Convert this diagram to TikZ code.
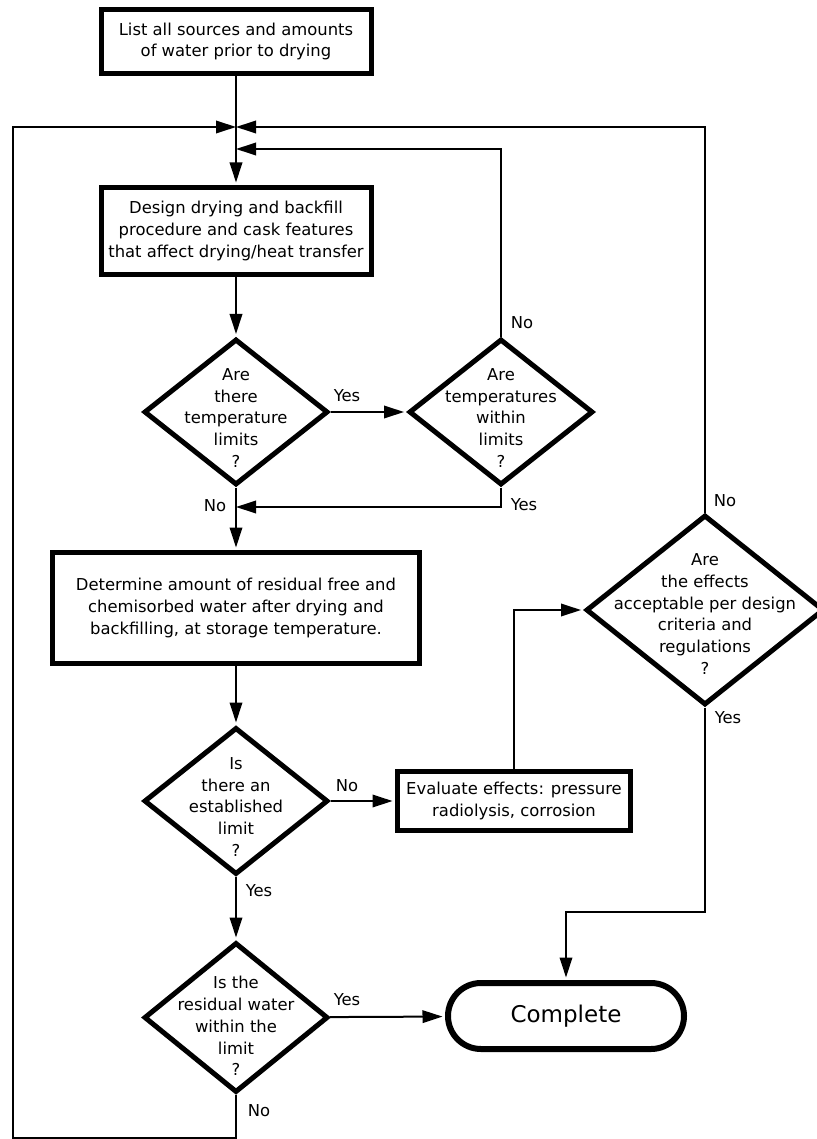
\documentclass[tikz,border=0pt]{standalone}
\usepackage{fontspec}
\setmainfont{DejaVu Sans}
\usetikzlibrary{shapes.geometric,arrows.meta}
\begin{document}
\begin{tikzpicture}[x=1pt,y=-1pt,
  font=\fontsize{16.4}{21.8}\selectfont,
  box/.style={draw,line width=5pt,align=center,inner sep=0pt},
  dia/.style={draw,diamond,line width=5pt,inner sep=0pt,minimum width=184pt,minimum height=146pt},
  dtext/.style={align=center,inner sep=0pt},
  conn/.style={line width=2pt},
  arr/.style={conn,-{Triangle[length=20pt,width=12.5pt]}},
  arrn/.style={arr,shorten >=2.5pt},
  lbl/.style={inner sep=0pt}
]
\useasboundingbox (0,0) rectangle (816,1139);
% boxes
\node[box,minimum width=270pt,minimum height=64pt] (list) at (236,41.5) {List all sources and amounts\\of water prior to drying};
\node[box,minimum width=270pt,minimum height=87pt] (design) at (236,231) {Design drying and backfill\\procedure and cask features\\that affect drying/heat transfer};
\node[box,minimum width=367pt,minimum height=111pt] (det) at (236,608) {Determine amount of residual free and\\chemisorbed water after drying and\\backfilling, at storage temperature.};
\node[box,minimum width=233pt,minimum height=59pt] (eval) at (514,801) {Evaluate effects: pressure\\radiolysis, corrosion};
\node[draw,line width=6pt,rounded corners=33pt,minimum width=236pt,minimum height=66pt,inner sep=0pt,font=\fontsize{23}{27}\selectfont] (comp) at (566,1016) {Complete};
% diamonds
\node[dia] (d1) at (236,412) {};
\node[dtext] (d1t) at (236,418) {Are\\there\\temperature\\limits\\?};
\node[dia] (d2) at (501,412) {};
\node[dtext] (d2t) at (501,418) {Are\\temperatures\\within\\limits\\?};
\node[dia,minimum width=238pt,minimum height=190pt] (d3) at (705,610) {};
\node[dtext] (d3t) at (705,614) {Are\\the effects\\acceptable per design\\criteria and\\regulations\\?};
\node[dia,minimum height=147pt] (d4) at (236,801) {};
\node[dtext] (d4t) at (236,807) {Is\\there an\\established\\limit\\?};
\node[dia,minimum height=150pt] (d5) at (236,1017.5) {};
\node[dtext] (d5t) at (236,1026) {Is the\\residual water\\within the\\limit\\?};
% junction coordinates
\coordinate (j1) at (236,127);
\coordinate (j2) at (236,149);
\coordinate (m) at (236,507);
\coordinate (lt) at (13,127);
\coordinate (lb) at (13,1138);
\coordinate (bb) at (236,1138);
\coordinate (rt) at (705,127);
\coordinate (it) at (501,149);
\coordinate (yb) at (501,507);
\coordinate (cr) at (705,912);
\coordinate (cl) at (566,912);
% connectors
\draw[arrn] (list) -- (design);
\draw[arrn] (design) -- (d1);
\draw[arrn] (d1) -- (d2);
\draw[arrn] (d1) -- (det);
\draw[arrn] (det) -- (d4);
\draw[arrn] (d4) -- (eval);
\draw[arrn] (d4) -- (d5);
\draw[arrn] (d5) -- (comp);
\draw[arrn] (eval.north) |- (d3.west);
\draw[arrn] (d3.south) -- (cr) -- (cl) -- (comp.north);
\draw[arr] (d2.south) -- (yb) -- (m);
\draw[arr] (d2.north) -- (it) -- (j2);
\draw[arr] (d3.north) -- (rt) -- (j1);
\draw[arr] (d5.south) -- (bb) -- (lb) -- (lt) -- (j1);
% labels
\node[lbl] (y1) at (347,396) {Yes};
\node[lbl] (n2) at (522,323) {No};
\node[lbl] (y2) at (524,505) {Yes};
\node[lbl] (n1) at (215,506) {No};
\node[lbl] (n3) at (725,501) {No};
\node[lbl] (y3) at (728,718) {Yes};
\node[lbl] (n4) at (347,786) {No};
\node[lbl] (y4) at (259,891) {Yes};
\node[lbl] (y5) at (347,1000) {Yes};
\node[lbl] (n5) at (259,1111) {No};
\end{tikzpicture}
\end{document}
